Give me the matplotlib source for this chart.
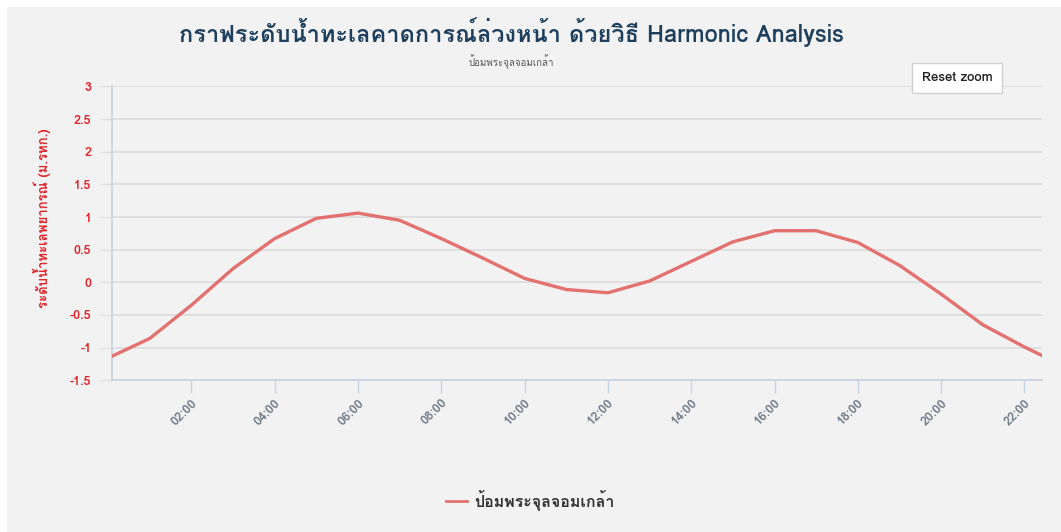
import matplotlib
matplotlib.use("Agg")
import matplotlib.pyplot as plt
from matplotlib import font_manager, ft2font
from matplotlib.patches import Rectangle

# predicted tide level, hourly
hours = list(range(0, 24))
levels = [-1.16, -0.86, -0.35, 0.21, 0.67, 0.98, 1.06, 0.95, 0.67, 0.37, 0.06, -0.11,
          -0.16, 0.02, 0.32, 0.62, 0.79, 0.79, 0.61, 0.26, -0.18, -0.65, -0.99, -1.30]
tick_hours = [2, 4, 6, 8, 10, 12, 14, 16, 18, 20, 22]
tick_labels = ["02:00", "04:00", "06:00", "08:00", "10:00", "12:00",
               "14:00", "16:00", "18:00", "20:00", "22:00"]
y_ticks = [-1.5, -1, -0.5, 0, 0.5, 1, 1.5, 2, 2.5, 3]

title = "กราฟระดับน้ำทะเลคาดการณ์ล่วงหน้า ด้วยวิธี Harmonic Analysis"
station = "ป้อมพระจุลจอมเกล้า"
y_title = "ระดับน้ำทะเลพยากรณ์ (ม.รทก.)"


def thai_family():
    # pick any installed font that actually has Thai glyphs
    for f in font_manager.fontManager.ttflist:
        try:
            if 0x0E01 in ft2font.FT2Font(f.fname).get_charmap():
                return f.name
        except Exception:
            continue
    return None


th = thai_family()
families = ([th] if th else []) + ["DejaVu Sans"]
plt.rcParams["font.family"] = families

fig = plt.figure(figsize=(10.61, 5.32), dpi=100, facecolor="white")
fig.patches.append(Rectangle((7 / 1061, 0), 1, 1 - 7 / 532, transform=fig.transFigure,
                             facecolor="#f2f2f2", edgecolor="none", zorder=-10))

ax = fig.add_axes([0.1058, 0.2852, 0.8766, 0.5524])
ax.set_facecolor("none")

ax.plot(hours, levels, color="#e2716f", lw=2.4, solid_joinstyle="round", zorder=3)

ax.set_xlim(0.1, 22.43)
ax.set_ylim(-1.5, 3)
ax.set_yticks(y_ticks)
ax.set_yticklabels([f"{v:g}" for v in y_ticks])
ax.set_xticks(tick_hours)
ax.set_xticklabels(tick_labels, rotation=45, ha="right", va="top", rotation_mode="anchor")

ax.grid(axis="y", color="#dcdcdc", lw=1.2)
ax.set_axisbelow(True)
for side in ["top", "right"]:
    ax.spines[side].set_visible(False)
for side in ["left", "bottom"]:
    ax.spines[side].set_color("#c6d3e0")
    ax.spines[side].set_linewidth(1.2)

ax.tick_params(axis="y", length=9, width=1, color="#e2e2e2", labelsize=9,
               labelcolor="#e0242a", pad=6)
ax.tick_params(axis="x", length=9, width=1, color="#c6d3e0", labelsize=9,
               labelcolor="#6f7a88", pad=3)
for lab in ax.get_yticklabels() + ax.get_xticklabels():
    lab.set_fontweight("bold")

ax.set_ylabel(y_title, color="#e0242a", fontsize=9.5, fontweight="bold")
ax.yaxis.set_label_coords(-0.066, 0.552)

fig.text(0.482, 0.94, title, ha="center", va="center", fontsize=17, fontweight="bold",
         color="#1d3f5c")
fig.text(0.482, 0.885, station, ha="center", va="center", fontsize=7, color="#555555")

# reset zoom button
fig.text(0.902, 0.853, "Reset zoom", ha="center", va="center", fontsize=9.5, fontweight="bold",
         color="#222222",
         bbox=dict(boxstyle="square,pad=0.7", facecolor="white", edgecolor="#d0d0d0", lw=1))

leg = fig.legend(ax.get_lines(), [station], loc="center", bbox_to_anchor=(0.5, 0.06),
                 frameon=False, handlelength=1.3, handletextpad=0.5, fontsize=11.5)
leg.get_lines()[0].set_linewidth(2)
for t in leg.get_texts():
    t.set_fontweight("bold")
    t.set_color("#333333")

fig.savefig("out.png", dpi=100, facecolor=fig.get_facecolor())
